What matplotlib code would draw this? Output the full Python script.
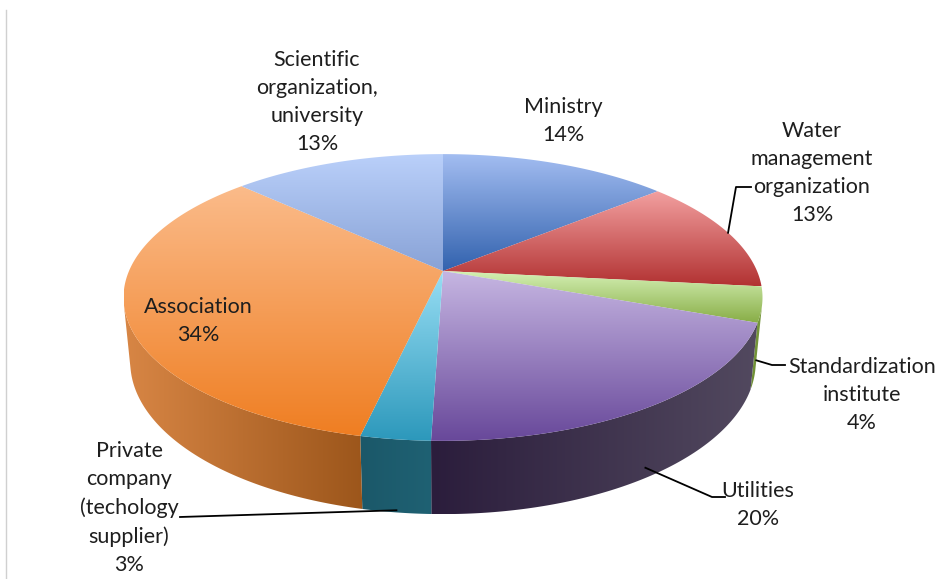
import numpy as np
import matplotlib
matplotlib.use('Agg')
import matplotlib.pyplot as plt
from matplotlib.patches import Polygon
from matplotlib.colors import to_rgb

# Survey respondents by organisation type (%)
categories = ['Ministry', 'Water\nmanagement\norganization', 'Standardization\ninstitute',
              'Utilities', 'Private\ncompany\n(techology\nsupplier)', 'Association',
              'Scientific\norganization,\nuniversity']
shares = [14, 13, 4, 20, 3, 34, 13]

# top face gradient (top -> bottom) and side gradient (left -> right)
top_colors = [('#a3bdf1', '#3262ae'), ('#f3a1a1', '#b23232'), ('#d4f0b4', '#88ad46'),
              ('#c6b6e2', '#68489a'), ('#98def4', '#2c98bb'), ('#fbbb8a', '#ef7e22'),
              ('#bad0fa', '#88a2d6')]
side_colors = [('#2c4f8a', '#2c4f8a'), ('#8a2828', '#8a2828'), ('#6e8e34', '#7a9a40'),
               ('#2b1d3c', '#52495f'), ('#1b5869', '#1f6173'), ('#d88645', '#9c561b'),
               ('#6f86b3', '#6f86b3')]

# label placement (text centre), leader start/elbow in pixels, anchor depth on the wall
label_pos = [(563, 121), (812, 173), (862, 395), (758, 505), (129, 508), (198, 321), (317, 102)]
leaders = {1: [(751, 187), (736, 187), 0.0],
           2: [(785, 365), (772, 365), -0.85],
           3: [(725, 497), (712, 497), -0.85],
           4: [(180, 517), None, -0.97]}

# projection of the tilted disc
CX, CY, K = 443, 271, 314
SIN_E = 0.441
COS_E = np.sqrt(1 - SIN_E ** 2)
D = 5.415 * COS_E
H = 0.23


def project(theta, z):
    X = np.sin(theta)
    Y = -np.cos(theta)
    depth = Y * COS_E + z * SIN_E
    s = D / (D - depth)
    return CX + K * X * s, CY + K * (Y * SIN_E - z * COS_E) * s


def grad_fill(ax, xy, c0, c1, vertical=True, z=1):
    poly = Polygon(xy, closed=True, facecolor='none', edgecolor='none')
    ax.add_patch(poly)
    x0, x1 = xy[:, 0].min(), xy[:, 0].max()
    y0, y1 = xy[:, 1].min(), xy[:, 1].max()
    t = np.linspace(0, 1, 256)[:, None]
    cols = (1 - t) * np.array(to_rgb(c0)) + t * np.array(to_rgb(c1))
    img = cols[:, None, :] if vertical else cols[None, :, :]
    im = ax.imshow(img, extent=(x0, x1, y1, y0), origin='upper', aspect='auto',
                   interpolation='bilinear', zorder=z)
    im.set_clip_path(poly)


fig = plt.figure(figsize=(9.42, 5.79), dpi=100)
ax = fig.add_axes([0, 0, 1, 1])

bounds = np.concatenate([[0], np.cumsum(shares)]) / sum(shares) * 2 * np.pi
vis = np.arccos(-1 / (D * COS_E))
v0, v1 = vis, 2 * np.pi - vis

# side walls
for i in range(len(shares)):
    lo, hi = max(bounds[i], v0), min(bounds[i + 1], v1)
    if hi <= lo:
        continue
    t = np.linspace(lo, hi, 120)
    tx, ty = project(t, 0)
    bx, by = project(t, -H)
    xy = np.column_stack([np.concatenate([tx, bx[::-1]]), np.concatenate([ty, by[::-1]])])
    grad_fill(ax, xy, *side_colors[i], vertical=False, z=1)

# top faces
for i in range(len(shares)):
    t = np.linspace(bounds[i], bounds[i + 1], 200)
    rx, ry = project(t, 0)
    xy = np.column_stack([np.concatenate([[CX], rx]), np.concatenate([[CY], ry])])
    grad_fill(ax, xy, *top_colors[i], vertical=True, z=2)

# labels
for i, (name, val) in enumerate(zip(categories, shares)):
    ax.text(label_pos[i][0], label_pos[i][1], f'{name}\n{val}%', ha='center', va='center',
            fontsize=15.5, family='Lato', color='#1e1e1e', linespacing=1.5, zorder=5)

# leader lines
for i, (start, elbow, zf) in leaders.items():
    mid = (bounds[i] + bounds[i + 1]) / 2
    ex, ey = project(mid, zf * H)
    pts = [start] + ([elbow] if elbow else []) + [(ex, ey)]
    ax.plot([p[0] for p in pts], [p[1] for p in pts], color='black', lw=1.3, zorder=4)

ax.plot([6, 6], [10, 579], color='#d0d0d0', lw=1)

ax.set_xlim(0, 942)
ax.set_ylim(579, 0)
ax.axis('off')
fig.savefig('out.png', dpi=100)
